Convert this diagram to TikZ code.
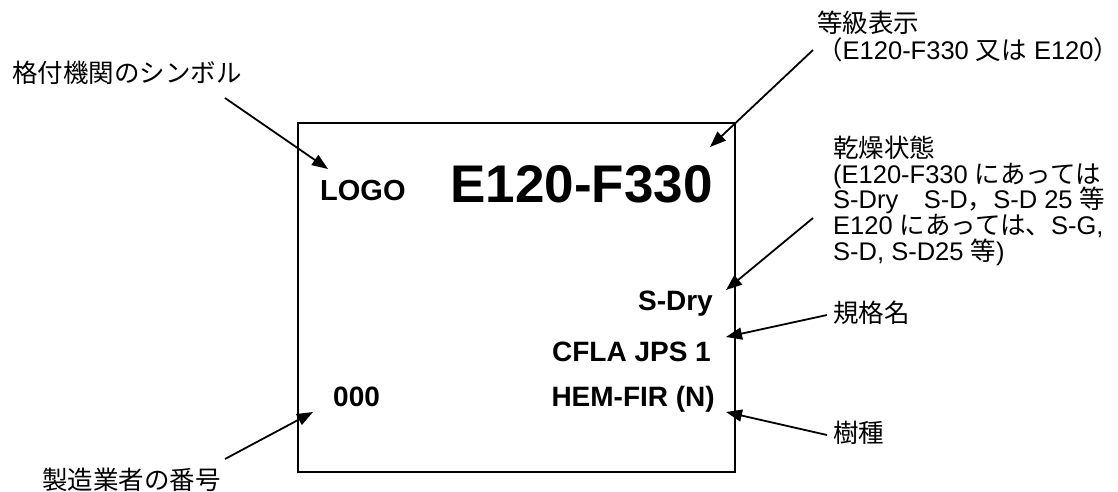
\documentclass[tikz,border=0pt]{standalone}
\usepackage{fontspec}
\setmainfont{Liberation Sans}
\newfontfamily\cjk{Noto Sans CJK JP}
\usetikzlibrary{arrows.meta}
\begin{document}
\begin{tikzpicture}[x=1pt,y=-1pt,
  lbl/.style={anchor=base west,inner sep=0pt,font=\fontsize{25.5}{25.5}\selectfont},
  stamp/.style={inner sep=0pt,font=\fontsize{28}{28}\selectfont\bfseries},
  arr/.style={line width=1.8pt,-{Triangle[length=16pt,width=12pt]}}]
\useasboundingbox (0,0) rectangle (1118,491);
% box
\node[draw,line width=1.8pt,minimum width=437pt,minimum height=349pt,inner sep=0pt] (box) at (516.5,297.5) {};
% inner texts
\node[stamp,anchor=base west,font=\fontsize{29}{29}\selectfont\bfseries] (logo) at (320,200) {LOGO};
\node[stamp,anchor=base east,font=\fontsize{53}{53}\selectfont\bfseries] (grade) at (713,202) {E120-F330};
\node[stamp,anchor=base east] (sdry) at (713,310) {S-Dry};
\node[stamp,anchor=base east] (cfla) at (711,361) {CFLA JPS 1};
\node[stamp,anchor=base east] (hem) at (715,406) {HEM-FIR (N)};
\node[stamp,anchor=base west] (num) at (333,406) {000};
% labels
\node[lbl] (l1) at (12,82.5) {\cjk 格付機関のシンボル};
\node[lbl] (l2a) at (817,32) {\cjk 等級表示};
\node[lbl] (l2b) at (817,59.5) {{\cjk （}E120-F330 {\cjk 又は} E120\makebox[0.45em][l]{\cjk ）}};
\node[lbl] (l3a) at (833,157.5) {\cjk 乾燥状態};
\node[lbl] (l3b) at (833,183.2) {(E120-F330 {\cjk にあっては}};
\node[lbl] (l3c) at (833,208.9) {S-Dry{\cjk 　}S-D{\cjk ，}S-D 25 {\cjk 等}};
\node[lbl] (l3d) at (833,234.6) {E120 {\cjk にあっては、}S-G,};
\node[lbl] (l3e) at (833,260.3) {S-D, S-D25 {\cjk 等})};
\node[lbl] (l4) at (833,322) {\cjk 規格名};
\node[lbl] (l5) at (833,442) {\cjk 樹種};
\node[lbl] (l6) at (42,489) {\cjk 製造業者の番号};
% arrow ends
\coordinate (s1) at (225,98);  \coordinate (t1) at (328,169);
\coordinate (s2) at (813,50);  \coordinate (t2) at (710,147);
\coordinate (s3) at (813,218); \coordinate (t3) at (726,290);
\coordinate (s4) at (827,315); \coordinate (t4) at (726,337);
\coordinate (s5) at (827,435); \coordinate (t5) at (726,412);
\coordinate (s6) at (225,459); \coordinate (t6) at (313,412);
\draw[arr] (s1) -- (t1);
\draw[arr] (s2) -- (t2);
\draw[arr] (s3) -- (t3);
\draw[arr] (s4) -- (t4);
\draw[arr] (s5) -- (t5);
\draw[arr] (s6) -- (t6);
\end{tikzpicture}
\end{document}
